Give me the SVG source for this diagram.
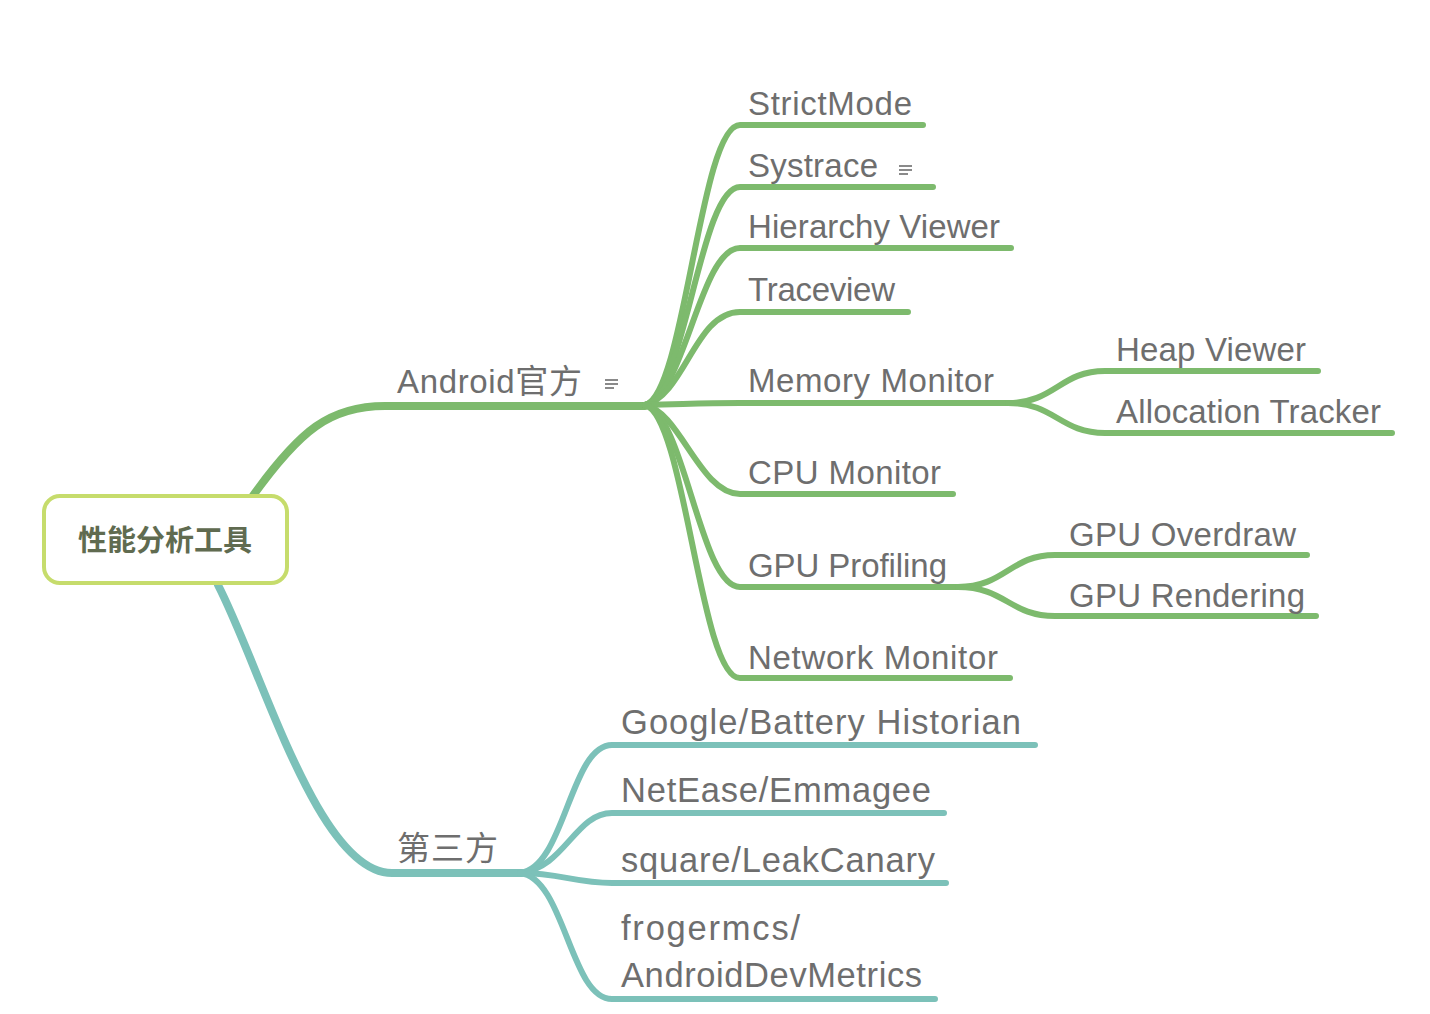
<svg xmlns="http://www.w3.org/2000/svg" width="1430" height="1014" viewBox="0 0 1430 1014">
<style>
.t{font-family:"Liberation Sans","Noto Sans CJK SC",sans-serif;font-size:33px;fill:#6e6e6e}
.w{font-size:34.5px}
.g{fill:none;stroke:#7dba6d;stroke-linecap:round}
.c{fill:none;stroke:#7cc1b9;stroke-linecap:round}
.ic{stroke:#8a8a8a;stroke-width:2}
</style>
<rect width="1430" height="1014" fill="#fff"/>
<g id="connectors">
<path class="g" stroke-width="8" d="M252,497 C300,430 330,406 385,406 L645,406"/>
<path class="c" stroke-width="8" d="M218,585 C262,670 318,873 392,873 L522,873"/>
<g stroke-width="6">
<path class="g" d="M645,405 C685,395 700,125 740,125 L923,125"/>
<path class="g" d="M645,405 C685,395 700,187 740,187 L933,187"/>
<path class="g" d="M645,405 C685,395 700,248 740,248 L1011,248"/>
<path class="g" d="M645,405 C685,395 695,312 740,312 L908,312"/>
<path class="g" d="M645,405 C690,404 700,403 740,403 L1010,403"/>
<path class="g" d="M645,405 C680,412 700,494 740,494 L953,494"/>
<path class="g" d="M645,405 C685,415 700,587 740,587 L960,587"/>
<path class="g" d="M645,405 C685,415 700,678 740,678 L1010,678"/>
<path class="g" d="M1008,403 C1055,403 1060,371 1105,371 L1318,371"/>
<path class="g" d="M1008,403 C1055,403 1060,433 1105,433 L1392,433"/>
<path class="g" d="M958,587 C1005,587 1010,555 1055,555 L1307,555"/>
<path class="g" d="M958,587 C1005,587 1010,616 1055,616 L1316,616"/>
<path class="c" d="M520,873 C565,868 570,745 612,745 L1035,745"/>
<path class="c" d="M520,873 C565,868 575,813 612,813 L944,813"/>
<path class="c" d="M520,873 C560,873 575,883 612,883 L946,883"/>
<path class="c" d="M520,873 C565,878 570,999 612,999 L935,999"/>
</g>
</g>
<g id="root">
<rect x="44" y="496" width="243" height="87" rx="16" fill="#fff" stroke="#c6dc6c" stroke-width="4"/>
<text x="165" y="551" text-anchor="middle" style="font-family:'Noto Sans CJK SC',sans-serif;font-size:29px;font-weight:bold;fill:#606b50">性能分析工具</text>
</g>
<g id="android">
<text class="t" x="397" y="393" textLength="185">Android官方</text>
<g class="ic"><line x1="605" y1="380" x2="618" y2="380"/><line x1="605" y1="384" x2="618" y2="384"/><line x1="605" y1="388" x2="614" y2="388"/></g>
</g>
<g id="strictmode"><text class="t" x="748" y="115" textLength="164">StrictMode</text></g>
<g id="systrace"><text class="t" x="748" y="177" textLength="130">Systrace</text>
<g class="ic"><line x1="899" y1="166" x2="912" y2="166"/><line x1="899" y1="170" x2="912" y2="170"/><line x1="899" y1="174" x2="908" y2="174"/></g></g>
<g id="hierarchy"><text class="t" x="748" y="238" textLength="252">Hierarchy Viewer</text></g>
<g id="traceview"><text class="t" x="748" y="301" textLength="147">Traceview</text></g>
<g id="memory"><text class="t" x="748" y="392" textLength="246">Memory Monitor</text></g>
<g id="heap"><text class="t" x="1116" y="361" textLength="190">Heap Viewer</text></g>
<g id="alloc"><text class="t" x="1116" y="423" textLength="265">Allocation Tracker</text></g>
<g id="cpu"><text class="t" x="748" y="484" textLength="193">CPU Monitor</text></g>
<g id="gpu"><text class="t" x="748" y="577" textLength="199">GPU Profiling</text></g>
<g id="overdraw"><text class="t" x="1069" y="546" textLength="227">GPU Overdraw</text></g>
<g id="rendering"><text class="t" x="1069" y="607" textLength="236">GPU Rendering</text></g>
<g id="network"><text class="t" x="748" y="669" textLength="250">Network Monitor</text></g>
<g id="third"><text class="t" x="397" y="860" textLength="101">第三方</text></g>
<g id="battery"><text class="t w" x="621" y="734" textLength="400">Google/Battery Historian</text></g>
<g id="emmagee"><text class="t w" x="621" y="802" textLength="310">NetEase/Emmagee</text></g>
<g id="leakcanary"><text class="t w" x="621" y="872" textLength="314">square/LeakCanary</text></g>
<g id="devmetrics"><text class="t w" x="621" y="940" textLength="179">frogermcs/</text><text class="t w" x="621" y="987" textLength="301">AndroidDevMetrics</text></g>
</svg>
